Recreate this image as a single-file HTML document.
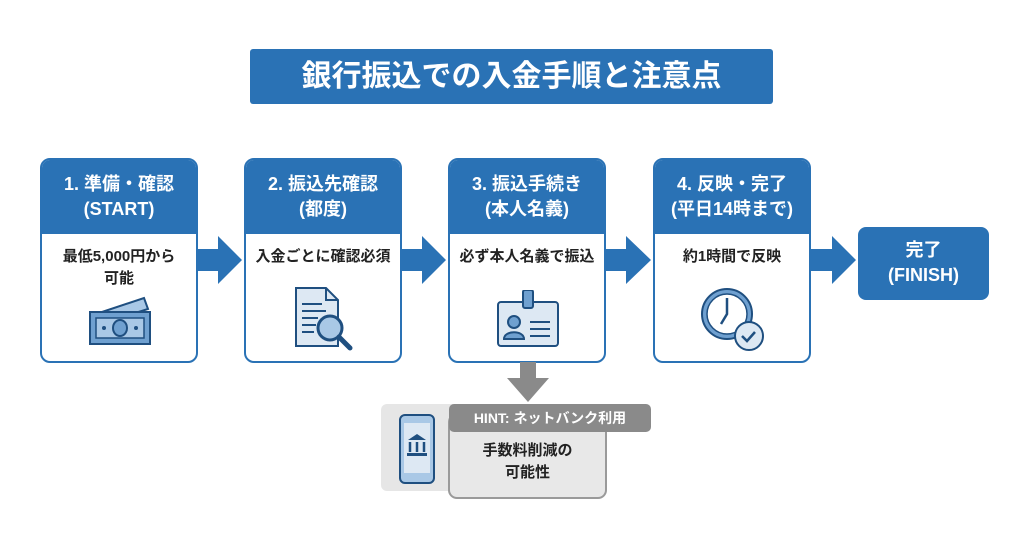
<!DOCTYPE html>
<html><head><meta charset="utf-8"><style>
body{margin:0;width:1024px;height:541px;background:#fff;position:relative;overflow:hidden;font-family:"Liberation Sans","Noto Sans CJK JP",sans-serif;font-weight:bold}
.a{position:absolute}
.title{left:250px;top:49px;width:523px;height:55px;background:#2a72b5;color:#fff;font-size:30px;text-align:center;line-height:55px;border-radius:3px}
.card{position:absolute;top:158px;width:154px;height:201px;border:2px solid #2a72b5;border-radius:10px;background:#fff;overflow:hidden}
.hd{background:#2a72b5;color:#fff;height:74px;text-align:center;font-size:18px;line-height:25px;padding-top:12px;box-sizing:border-box}
.bd{text-align:center;font-size:15px;line-height:22px;color:#222;padding-top:12px}
.fin{left:858px;top:227px;width:131px;height:73px;background:#2a72b5;border-radius:8px;color:#fff;text-align:center;font-size:18px;line-height:25px;padding-top:11px;box-sizing:border-box}
</style></head><body>
<div class="a title">銀行振込での入金手順と注意点</div>

<div class="card" style="left:40px"><div class="hd">1. 準備・確認<br>(START)</div><div class="bd">最低5,000円から<br>可能</div>
<svg class="a" style="left:44px;top:136px" width="70" height="52"><polygon points="10,18 58,2 62,13 14,28" fill="#a9c8e6" stroke="#1f4f80" stroke-width="2"/><rect x="4" y="16" width="60" height="32" fill="#6fa0d0" stroke="#1f4f80" stroke-width="2"/><rect x="10" y="22" width="48" height="20" fill="#a9c8e6" stroke="#1f4f80" stroke-width="1.5"/><ellipse cx="34" cy="32" rx="7" ry="8" fill="#6fa0d0" stroke="#1f4f80" stroke-width="2"/><circle cx="18" cy="32" r="2" fill="#1f4f80"/><circle cx="50" cy="32" r="2" fill="#1f4f80"/></svg></div>

<div class="card" style="left:244px"><div class="hd">2. 振込先確認<br>(都度)</div><div class="bd">入金ごとに確認必須</div>
<svg class="a" style="left:46px;top:126px" width="70" height="70"><path d="M4 2h30l12 12v46H4z" fill="#dde8f3" stroke="#1f4f80" stroke-width="2"/><path d="M34 2v12h12" fill="none" stroke="#1f4f80" stroke-width="2"/><g stroke="#1f4f80" stroke-width="2"><line x1="10" y1="18" x2="30" y2="18"/><line x1="10" y1="25" x2="34" y2="25"/><line x1="10" y1="32" x2="26" y2="32"/><line x1="10" y1="39" x2="24" y2="39"/><line x1="10" y1="46" x2="22" y2="46"/></g><circle cx="38" cy="42" r="12" fill="#a9c8e6" stroke="#1f4f80" stroke-width="3"/><line x1="47" y1="51" x2="58" y2="62" stroke="#1f4f80" stroke-width="5" stroke-linecap="round"/></svg></div>

<div class="card" style="left:448px"><div class="hd">3. 振込手続き<br>(本人名義)</div><div class="bd">必ず本人名義で振込</div>
<svg class="a" style="left:46px;top:130px" width="66" height="60"><rect x="2" y="12" width="60" height="44" rx="3" fill="#dde8f3" stroke="#1f4f80" stroke-width="2"/><rect x="27" y="0" width="10" height="18" rx="2" fill="#6fa0d0" stroke="#1f4f80" stroke-width="2"/><circle cx="18" cy="32" r="6" fill="#6fa0d0" stroke="#1f4f80" stroke-width="2"/><path d="M8 49c0-9 20-9 20 0z" fill="#6fa0d0" stroke="#1f4f80" stroke-width="2"/><g stroke="#1f4f80" stroke-width="2"><line x1="34" y1="32" x2="54" y2="32"/><line x1="34" y1="39" x2="54" y2="39"/><line x1="34" y1="46" x2="54" y2="46"/></g></svg></div>

<div class="card" style="left:653px"><div class="hd">4. 反映・完了<br>(平日14時まで)</div><div class="bd">約1時間で反映</div>
<svg class="a" style="left:44px;top:126px" width="70" height="70"><circle cx="28" cy="28" r="25" fill="#6fa0d0" stroke="#1f4f80" stroke-width="2"/><circle cx="28" cy="28" r="20" fill="#fff" stroke="#1f4f80" stroke-width="1.5"/><path d="M28 12v16l-6 10" fill="none" stroke="#1f4f80" stroke-width="2.5"/><circle cx="50" cy="50" r="14" fill="#dde8f3" stroke="#1f4f80" stroke-width="2"/><path d="M43 50l5 5 8-9" fill="none" stroke="#1f4f80" stroke-width="2.5"/></svg></div>

<div class="a fin">完了<br>(FINISH)</div>

<svg class="a" style="left:0;top:0" width="1024" height="541">
<g fill="#2a72b5">
<polygon points="198,249 218,249 218,236 242,260 218,284 218,271 198,271"/>
<polygon points="402,249 422,249 422,236 446,260 422,284 422,271 402,271"/>
<polygon points="606,249 626,249 626,236 651,260 626,284 626,271 606,271"/>
<polygon points="811,249 832,249 832,236 856,260 832,284 832,271 811,271"/>
</g>
<polygon points="520,362 536,362 536,378 549,378 528,402 507,378 520,378" fill="#8a8a8a"/>
<rect x="381" y="404" width="110" height="87" rx="6" fill="#e6e6e6"/>
<rect x="449" y="414" width="157" height="84" rx="8" fill="#e8e8e8" stroke="#9a9a9a" stroke-width="2"/>
<rect x="449" y="404" width="202" height="28" rx="5" fill="#8a8a8a"/>
<rect x="400" y="415" width="34" height="68" rx="5" fill="#a9c8e6" stroke="#1f4f80" stroke-width="2"/>
<rect x="404" y="423" width="26" height="50" fill="#dde8f3"/>
<polygon points="408,440 417,434 426,440" fill="#1f4f80"/>
<g stroke="#1f4f80" stroke-width="2.5"><line x1="410" y1="442" x2="410" y2="452"/><line x1="417" y1="442" x2="417" y2="452"/><line x1="424" y1="442" x2="424" y2="452"/></g>
<rect x="407" y="453" width="20" height="3" fill="#1f4f80"/>
</svg>
<div class="a" style="left:449px;top:404px;width:202px;height:28px;line-height:28px;text-align:center;color:#fff;font-size:14px">HINT: ネットバンク利用</div>
<div class="a" style="left:449px;top:440px;width:157px;text-align:center;color:#222;font-size:15px;line-height:22px">手数料削減の<br>可能性</div>
</body></html>
